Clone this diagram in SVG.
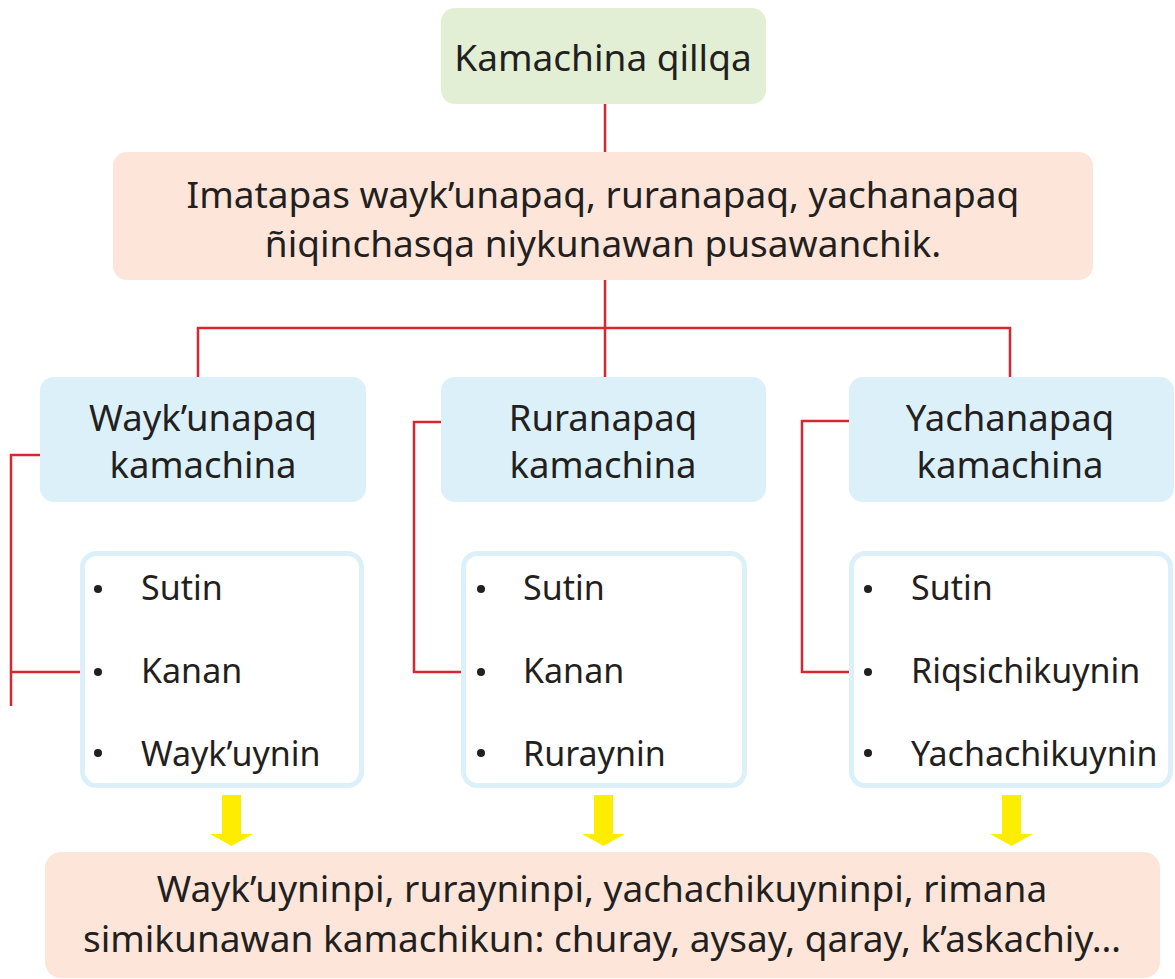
<svg xmlns="http://www.w3.org/2000/svg" width="1175" height="979" viewBox="0 0 1175 979">
<style>
text{font-family:"Noto Sans","Open Sans","DejaVu Sans",sans-serif;fill:#231f20}
.t{font-size:37px;text-anchor:middle}
.h{font-size:36.5px;text-anchor:middle}
.l{font-size:34px}
.green{fill:#e2efd5}
.peach{fill:#fde6d9}
.blue{fill:#dcf0fa}
.list{fill:#ffffff;stroke:#dcf0fa;stroke-width:5}
.con{fill:none;stroke:#d7262f;stroke-width:2.5}
.arr{fill:#ffed00}
.dot{fill:#231f20}
</style>
<g id="connectors">
<path class="con" d="M605 104V152M605 280V328M198 377V328H1010V377M605 328V377"/>
<path class="con" d="M40 455H11V706M11 672H80"/>
<path class="con" d="M441 422H414V672H461"/>
<path class="con" d="M849 421H802V672H849"/>
<path class="arr" d="M222 795H241V834H253L231.5 846L210 834H222Z"/>
<path class="arr" d="M594 795H613V834H625L603.5 846L582 834H594Z"/>
<path class="arr" d="M1002 795H1021V834H1033L1011.5 846L990 834H1002Z"/>
</g>
<g id="title">
<rect class="green" x="441" y="8" width="325" height="96" rx="14"/>
<text class="t" x="603" y="71">Kamachina qillqa</text>
</g>
<g id="definition">
<rect class="peach" x="113" y="152" width="980" height="128" rx="14"/>
<text class="t" x="603" y="208">Imatapas wayk’unapaq, ruranapaq, yachanapaq</text>
<text class="t" x="603" y="257">ñiqinchasqa niykunawan pusawanchik.</text>
</g>
<g id="wayk">
<rect class="blue" x="40" y="377" width="326" height="125" rx="14"/>
<text class="h" x="203" y="431">Wayk’unapaq</text>
<text class="h" x="203" y="478">kamachina</text>
</g>
<g id="rura">
<rect class="blue" x="441" y="377" width="325" height="125" rx="14"/>
<text class="h" x="603" y="431">Ruranapaq</text>
<text class="h" x="603" y="478">kamachina</text>
</g>
<g id="yacha">
<rect class="blue" x="849" y="377" width="325" height="125" rx="14"/>
<text class="h" x="1010" y="431">Yachanapaq</text>
<text class="h" x="1010" y="478">kamachina</text>
</g>
<g id="list-wayk">
<rect class="list" x="82.5" y="553.5" width="279" height="232" rx="14"/>
<circle class="dot" cx="98" cy="589" r="4"/>
<circle class="dot" cx="98" cy="672" r="4"/>
<circle class="dot" cx="98" cy="753" r="4"/>
<text class="l" x="141" y="600">Sutin</text>
<text class="l" x="141" y="683">Kanan</text>
<text class="l" x="141" y="766">Wayk’uynin</text>
</g>
<g id="list-rura">
<rect class="list" x="463.5" y="553.5" width="281" height="232" rx="14"/>
<circle class="dot" cx="481" cy="589" r="4"/>
<circle class="dot" cx="481" cy="672" r="4"/>
<circle class="dot" cx="481" cy="753" r="4"/>
<text class="l" x="523" y="600">Sutin</text>
<text class="l" x="523" y="683">Kanan</text>
<text class="l" x="523" y="766">Ruraynin</text>
</g>
<g id="list-yacha">
<rect class="list" x="851.5" y="553.5" width="319" height="232" rx="14"/>
<circle class="dot" cx="868" cy="589" r="4"/>
<circle class="dot" cx="868" cy="672" r="4"/>
<circle class="dot" cx="868" cy="753" r="4"/>
<text class="l" x="911" y="600">Sutin</text>
<text class="l" x="911" y="683">Riqsichikuynin</text>
<text class="l" x="911" y="766">Yachachikuynin</text>
</g>
<g id="result">
<rect class="peach" x="45" y="852" width="1115" height="126" rx="16"/>
<text class="t" x="602" y="902">Wayk’uyninpi, rurayninpi, yachachikuyninpi, rimana</text>
<text class="t" x="602" y="952">simikunawan kamachikun: churay, aysay, qaray, k’askachiy…</text>
</g>
</svg>
